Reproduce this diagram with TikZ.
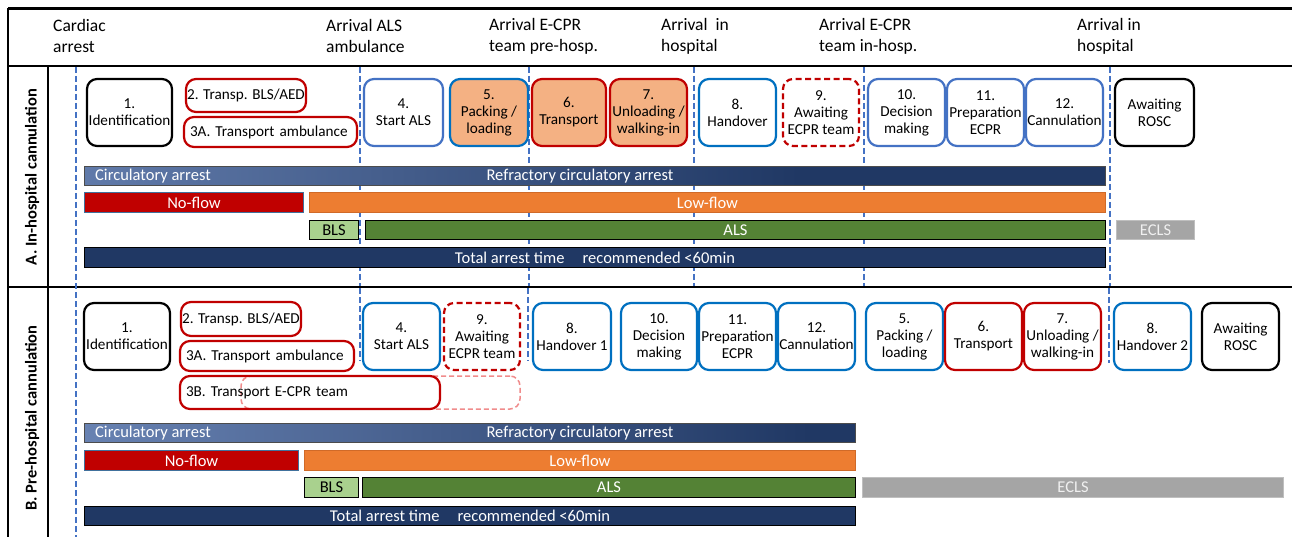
\documentclass[tikz,border=0pt]{standalone}
\usepackage{fontspec}
\setmainfont{Carlito}
\definecolor{cred}{HTML}{C00000}
\definecolor{cblue}{HTML}{0070C0}
\definecolor{cblueL}{HTML}{4472C4}
\definecolor{corangeF}{HTML}{F4B183}
\definecolor{cnavy}{HTML}{203864}
\definecolor{cgradL}{HTML}{8EA9DB}
\definecolor{corange}{HTML}{ED7D31}
\definecolor{corangeD}{HTML}{D06A28}
\definecolor{cgreen}{HTML}{548235}
\definecolor{cgreenL}{HTML}{A9D18E}
\definecolor{cgray}{HTML}{A5A5A5}
\definecolor{cgrayL}{HTML}{BFBFBF}
\definecolor{cdash}{HTML}{4472C4}
\definecolor{cpink}{HTML}{F08C8C}
\definecolor{cnfb}{HTML}{41719C}
\pgfdeclarehorizontalshading{circA}{100bp}{color(0bp)=(cgradL); color(60bp)=(cnavy); color(100bp)=(cnavy)}
\pgfdeclarehorizontalshading{circB}{100bp}{color(0bp)=(cgradL); color(72bp)=(cnavy); color(100bp)=(cnavy)}
\newcommand\boxfont{\fontsize{15.2}{17}\selectfont}
\newcommand\barfont{\fontsize{16.5}{18}\selectfont}
\newcommand\hdrfont{\fontsize{17.5}{21}\selectfont}
\tikzset{
  pbox/.style={rounded corners=10pt, line width=2.2pt, align=center, inner sep=0pt, font=\boxfont},
  redb/.style={pbox, draw=cred},
  blueb/.style={pbox, draw=cblue},
  bluel/.style={pbox, draw=cblueL},
  blackb/.style={pbox, draw=black},
  dredb/.style={pbox, draw=cred, dash pattern=on 6pt off 3.5pt},
  orf/.style={fill=corangeF},
  leftt/.style={align=left, text width={#1pt-14pt}, inner xsep=6pt},
  pbar/.style={inner sep=0pt, line width=0.9pt, font=\barfont, text=white},
  hdr/.style={font=\hdrfont, align=left, anchor=west, inner sep=0pt},
  sect/.style={font=\fontsize{16.5}{18}\selectfont\bfseries, rotate=90, inner sep=0pt},
  vdash/.style={draw=cdash, line width=1.6pt, dash pattern=on 6pt off 3pt},
  frame/.style={draw=black, line width=1.8pt}
}
\newcommand\Bx[7]{\node[#6,minimum width={#4pt-#2pt-2pt},minimum height={#5pt-#3pt-2pt}] (#1) at ({(#2+#4)/2},{(#3+#5)/2}) {#7};}
\newcommand\Br[7]{\node[pbar,#6,minimum width={#4pt-#2pt-1pt},minimum height={#5pt-#3pt-1pt}] (#1) at ({(#2+#4)/2},{(#3+#5)/2}) {#7};}
\begin{document}
\begin{tikzpicture}[x=1pt,y=-1pt]
\useasboundingbox[fill=white] (0,0) rectangle (1292,537);
% frame
\draw[frame, line width=3pt] (8,9) -- (1292,9);
\draw[frame] (8,66) -- (1292,66);
\draw[frame] (8,287) -- (1292,287);
\draw[frame] (8,8) -- (8,537);
\draw[frame, line width=1.5pt] (48,66) -- (48,537);
% header
\node[hdr] (h1) at (53,36) {Cardiac\\arrest};
\node[hdr] (h2) at (326,36) {Arrival ALS\\ambulance};
\node[hdr] (h3) at (489,36) {Arrival E-CPR\\team pre-hosp.};
\node[hdr] (h4) at (661,36) {Arrival\ \ in\\hospital};
\node[hdr] (h5) at (819,36) {Arrival E-CPR\\team in-hosp.};
\node[hdr] (h6) at (1077,36) {Arrival in\\hospital};
% dashed time lines
\draw[vdash] (76,67) -- (76,537);
\draw[vdash] (360,67) -- (360,286);
\draw[vdash] (529,67) -- (529,286);
\draw[vdash] (694,67) -- (694,286);
\draw[vdash] (864,67) -- (864,286);
\draw[vdash] (1110,67) -- (1110,286);
\draw[vdash] (360,288) -- (360,361);
\draw[vdash] (528,288) -- (528,361);
\draw[vdash] (1109,288) -- (1109,363);
% section labels
\node[sect] (labA) at (32,177) {A. In-hospital cannulation};
\node[sect] (labB) at (32,418) {B. Pre-hospital cannulation};
% ---- Section A boxes
\Bx{a1}{86}{78}{173}{147}{blackb}{1.\\Identification}
\Bx{a2}{185}{78}{307}{113}{redb}{2. Transp. BLS/AED}
\Bx{a3}{183}{116}{358}{148}{redb,leftt=175}{3A. Transport ambulance}
\Bx{a4}{363}{78}{444}{147}{bluel}{4.\\Start ALS}
\Bx{a5}{449}{78}{529}{147}{blueb,orf}{5.\\Packing /\\loading}
\Bx{a6}{531}{78}{607}{147}{redb,orf}{6.\\Transport}
\Bx{a7}{609}{78}{688}{147}{redb,orf}{7.\\Unloading /\\walking-in}
\Bx{a8}{698}{78}{777}{147}{blueb}{8.\\Handover}
\Bx{a9}{782}{78}{860}{147}{dredb}{9.\\Awaiting\\ECPR team}
\Bx{a10}{867}{78}{946}{147}{bluel}{10.\\Decision\\making}
\Bx{a11}{946}{78}{1025}{147}{bluel}{11.\\Preparation\\ECPR}
\Bx{a12}{1025}{78}{1104}{147}{bluel}{12.\\Cannulation}
\Bx{a13}{1114}{78}{1195}{147}{blackb}{Awaiting\\ROSC}
% ---- Section A bars
\Br{circA}{84}{166}{1106}{186}{draw=black!70, shading=circA}{}
\node[font=\barfont, text=white, anchor=west, inner sep=0pt] (circAt1) at (95,176) {Circulatory arrest};
\node[font=\barfont, text=white, inner sep=0pt] (circAt2) at (580,176) {Refractory circulatory arrest};
\Br{noflowA}{84}{192}{304}{213}{fill=cred, draw=cnfb}{No-flow}
\Br{lowflowA}{309}{192}{1106}{213}{fill=corange, draw=corangeD}{Low-flow}
\Br{blsA}{309}{220}{359}{240}{fill=cgreenL, draw=black, text=black}{BLS}
\Br{alsA}{365}{220}{1106}{240}{fill=cgreen, draw=black}{ALS}
\Br{eclsA}{1116}{220}{1195}{240}{fill=cgray, draw=cgrayL, text=white!88!gray}{ECLS}
\Br{totalA}{84}{247}{1106}{268}{fill=cnavy, draw=black}{Total arrest time\hspace{1.1em}recommended <60min}
% ---- Section B boxes
\Bx{b1}{83}{302}{171}{371}{blackb}{1.\\Identification}
\Bx{b2}{180}{301}{302}{337}{redb}{2. Transp. BLS/AED}
\Bx{b3}{179}{340}{355}{372}{redb,leftt=176}{3A. Transport ambulance}
\Bx{b3d}{240}{375}{521}{410}{pbox, draw=cpink, line width=1.5pt, dash pattern=on 5pt off 3pt}{}
\Bx{b3b}{179}{375}{441}{410}{redb,leftt=262}{3B. Transport E-CPR team}
\Bx{b4}{362}{302}{441}{371}{blueb}{4.\\Start ALS}
\Bx{b9}{443}{302}{521}{371}{dredb}{9.\\Awaiting\\ECPR team}
\Bx{b8}{532}{302}{612}{371}{blueb}{8.\\Handover 1}
\Bx{b10}{620}{302}{698}{371}{blueb}{10.\\Decision\\making}
\Bx{b11}{698}{302}{777}{371}{blueb}{11.\\Preparation\\ECPR}
\Bx{b12}{777}{302}{856}{371}{blueb}{12.\\Cannulation}
\Bx{b5}{865}{302}{944}{371}{blueb}{5.\\Packing /\\loading}
\Bx{b6}{944}{302}{1023}{371}{redb}{6.\\Transport}
\Bx{b7}{1023}{302}{1102}{371}{redb}{7.\\Unloading /\\walking-in}
\Bx{b8b}{1113}{302}{1192}{371}{blueb}{8.\\Handover 2}
\Bx{b13}{1201}{302}{1280}{371}{blackb}{Awaiting\\ROSC}
% ---- Section B bars
\Br{circB}{84}{423}{856}{443}{draw=black!70, shading=circB}{}
\node[font=\barfont, text=white, anchor=west, inner sep=0pt] (circBt1) at (95,433) {Circulatory arrest};
\node[font=\barfont, text=white, inner sep=0pt] (circBt2) at (580,433) {Refractory circulatory arrest};
\Br{noflowB}{84}{450}{299}{471}{fill=cred, draw=cnfb}{No-flow}
\Br{lowflowB}{304}{450}{856}{471}{fill=corange, draw=corangeD}{Low-flow}
\Br{blsB}{304}{477}{359}{498}{fill=cgreenL, draw=black, text=black}{BLS}
\Br{alsB}{362}{477}{856}{498}{fill=cgreen, draw=black}{ALS}
\Br{eclsB}{862}{477}{1284}{498}{fill=cgray, draw=cgrayL, text=white!88!gray}{ECLS}
\Br{totalB}{84}{506}{856}{526}{fill=cnavy, draw=black}{Total arrest time\hspace{1.1em}recommended <60min}
\end{tikzpicture}
\end{document}
